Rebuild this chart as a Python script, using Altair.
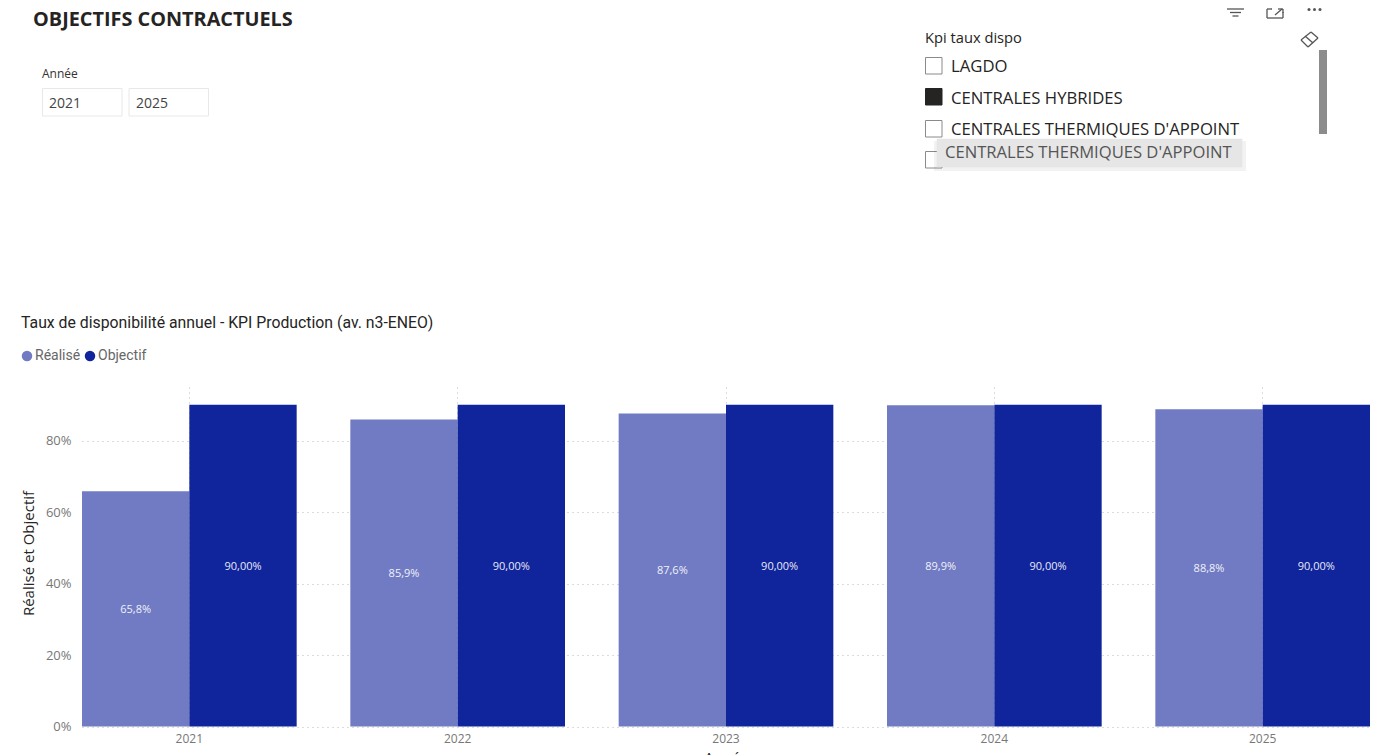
import altair as alt
import pandas as pd

years = ["2021", "2022", "2023", "2024", "2025"]
realise = [65.8, 85.9, 87.6, 89.9, 88.8]
realise_labels = ["65,8%", "85,9%", "87,6%", "89,9%", "88,8%"]
objectif = [90, 90, 90, 90, 90]
objectif_labels = ["90,00%", "90,00%", "90,00%", "90,00%", "90,00%"]
series_names = ["Réalisé", "Objectif"]
series_colors = ["#717BC4", "#10249C"]
y_ticks = [0, 20, 40, 60, 80]
slicer_items = ["LAGDO", "CENTRALES HYBRIDES", "CENTRALES THERMIQUES D'APPOINT"]
tooltip_text = "CENTRALES THERMIQUES D'APPOINT"

rows = []
for i, year in enumerate(years):
    rows.append(dict(year=year, series="Réalisé", value=realise[i], label=realise_labels[i]))
    rows.append(dict(year=year, series="Objectif", value=objectif[i], label=objectif_labels[i]))
df = pd.DataFrame(rows)

OX, OY = 82, 387  # page position of the plot origin; the helpers below take page coordinates
PW, PH = 1288, 339.5
one = pd.DataFrame({"t": [""]})


def X(v):
    return alt.value(v - OX)


def Y(v):
    return alt.value(v - OY)


def txt(s, x, y, size, color="#252423", font="Open Sans", weight="normal"):
    return alt.Chart(pd.DataFrame({"t": [s]})).mark_text(
        align="left", baseline="alphabetic", font=font, fontSize=size, color=color, fontWeight=weight
    ).encode(x=X(x), y=Y(y), text="t:N")


def box(x1, y1, x2, y2, fill="white", stroke="#8a8a8a", sw=1.0, opacity=1.0):
    return alt.Chart(one).mark_rect(fill=fill, stroke=stroke, strokeWidth=sw, opacity=opacity).encode(
        x=X(x1), x2=X(x2), y=Y(y1), y2=Y(y2)
    )


def seg(x1, y1, x2, y2, color="#555555", sw=1.3):
    return alt.Chart(one).mark_rule(color=color, strokeWidth=sw).encode(
        x=X(x1), x2=X(x2), y=Y(y1), y2=Y(y2)
    )


def dot(x, y, color="#555555"):
    return alt.Chart(one).mark_circle(color=color, size=9, opacity=1).encode(x=X(x), y=Y(y))


x_enc = alt.X(
    "year:N",
    sort=years,
    scale=alt.Scale(paddingInner=0.2, paddingOuter=0),
    axis=alt.Axis(
        title="Année", titleFont="Open Sans", titleFontSize=15, titleFontWeight="normal",
        titleColor="#252423", titleY=24, titleBaseline="top", labelAngle=0, labelFont="Open Sans",
        labelFontSize=12, labelColor="#777777", labelPadding=7, domain=False, ticks=False,
        grid=True, gridDash=[1, 4], gridColor="#b8b8b8",
    ),
)
y_enc = alt.Y(
    "value:Q",
    scale=alt.Scale(domain=[0, 95], nice=False),
    axis=alt.Axis(
        title="Réalisé et Objectif", values=y_ticks, labelExpr="datum.value + '%'",
        titleFont="Open Sans", titleFontSize=15, titleFontWeight="normal", titleColor="#252423",
        titleX=-46, titleY=166, labelFont="Open Sans", labelFontSize=13, labelColor="#777777",
        labelPadding=11, domain=False, ticks=False,
        grid=True, gridDash=[1, 4], gridColor="#b8b8b8",
    ),
)
offset = alt.XOffset("series:N", sort=series_names, scale=alt.Scale(padding=0, paddingInner=0))

bars = alt.Chart(df).mark_bar().encode(
    x=x_enc,
    xOffset=offset,
    y=y_enc,
    color=alt.Color(
        "series:N",
        sort=series_names,
        scale=alt.Scale(domain=series_names, range=series_colors),
        legend=alt.Legend(
            title=None, orient="none", legendX=-62, legendY=-38, direction="horizontal",
            columns=2, symbolType="circle", symbolSize=110, symbolOpacity=1,
            labelFont="Roboto", labelFontSize=14, labelColor="#666666",
            labelOffset=1, columnPadding=2,
        ),
    ),
)

labels = alt.Chart(df).transform_calculate(mid="datum.value / 2").mark_text(
    font="Open Sans", fontSize=11, color="#ffffff", opacity=0.9, dy=1
).encode(
    x=alt.X("year:N", sort=years),
    xOffset=offset,
    y=alt.Y("mid:Q"),
    text="label:N",
)

decor = [
    txt("OBJECTIFS CONTRACTUELS", 33, 26, 19.85, weight="bold"),
    txt("Année", 42, 78, 12, color="#333333"),
    box(42.5, 88.5, 122, 116, stroke="#e8e8e8"),
    box(129, 88.5, 208.5, 116, stroke="#e8e8e8"),
    txt(years[0], 49, 108, 14, color="#444444"),
    txt(years[-1], 136, 108, 14, color="#444444"),
    txt("Kpi taux dispo", 925, 43, 14.7),
    box(925.5, 57.5, 942, 74),
    box(925.5, 88.5, 942, 105, fill="#252423", stroke="#252423"),
    box(925.5, 120.5, 942, 137),
    box(925.5, 151.5, 942, 168),
    txt(slicer_items[0], 951, 72, 16.7),
    txt(slicer_items[1], 951, 103.5, 16.7),
    txt(slicer_items[2], 951, 135, 16.7),
    box(1319, 50, 1327, 134, fill="#8c8c8c", stroke="#8c8c8c", sw=0),
    box(934, 141, 1246, 171, fill="#000000", stroke="#000000", sw=0, opacity=0.05),
    box(937, 139, 1242, 167, fill="#e6e6e6", stroke="#e0e0e0", sw=0.5),
    txt(tooltip_text, 945, 158, 16.6, color="#555555"),
    seg(1227, 9, 1244, 9),
    seg(1230, 12.5, 1241, 12.5),
    seg(1232.5, 16, 1238.5, 16),
    seg(1267, 9, 1267, 18),
    seg(1267, 18, 1283, 18),
    seg(1283, 18, 1283, 12),
    seg(1267, 9, 1272, 9),
    seg(1275, 15, 1282, 9),
    seg(1278, 9, 1283, 9),
    seg(1283, 9, 1283, 13),
    dot(1309, 9.5),
    dot(1314.5, 9.5),
    dot(1320, 9.5),
    seg(1301, 40, 1311, 32),
    seg(1311, 32, 1318, 38),
    seg(1318, 38, 1308, 47),
    seg(1308, 47, 1301, 40),
    seg(1305, 36, 1313, 43),
    txt("Taux de disponibilité annuel - KPI Production (av. n3-ENEO)", 21, 328, 15.8, font="Roboto"),
]

chart = alt.layer(bars, labels, *decor).properties(
    width=PW,
    height=PH,
    padding={"left": OX - 8, "top": OY - 8, "right": 6, "bottom": 40},
    autosize=alt.AutoSizeParams(type="none"),
).configure_view(stroke=None)

chart.save("out.html", embed_options={"renderer": "svg", "actions": False})
